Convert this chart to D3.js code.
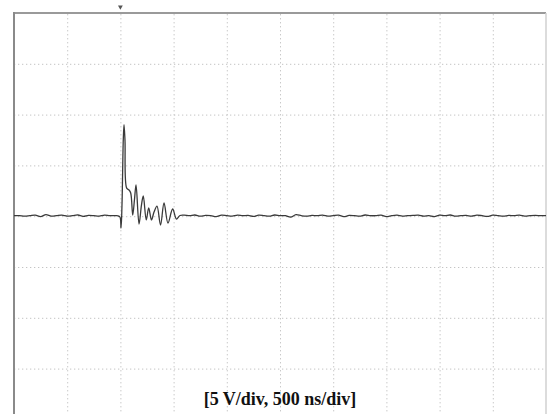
<!DOCTYPE html>
<html>
<head>
<meta charset="utf-8">
<style>
  body { margin: 0; background: #fff; }
  svg { display: block; }
  .grid line { stroke: #c4c4c4; stroke-width: 1; stroke-dasharray: 1.3,2.7; }
  .grid .domain { display: none; }
  .caption { font-family: "Liberation Serif", "Times New Roman", serif; font-weight: bold; font-size: 18px; fill: #111; }
</style>
</head>
<body>
<div id="chart"></div>
<script src="https://d3js.org/d3.v7.min.js"></script>
<script>
  // scope settings: 5 V/div, 500 ns/div, 10 x 8 divisions
  const xTicks = [0, 500, 1000, 1500, 2000, 2500, 3000, 3500, 4000, 4500, 5000];
  const yTicks = [-20, -15, -10, -5, 0, 5, 10, 15, 20];
  const caption = '[5 V/div, 500 ns/div]';
  const triggerTime = 1000;

  // baseline samples (every 50 ns) before and after the burst, volts
  const sampleStep = 50;
  const preStart = 0;
  const preV = [0.05, 0.05, 0.0, 0.05, 0.1, -0.05, 0.15, 0.0, 0.05, 0.1,
                0.0, 0.05, 0.12, -0.02, 0.08, 0.05, 0.0, 0.1, 0.05, 0.05];
  const postStart = 1600;
  const postV = [0.1, 0.05, 0.12, 0.0, 0.08, 0.05, -0.05, 0.1, 0.05, 0.0,
                 0.1, 0.05, 0.08, -0.02, 0.1, 0.05, 0.0, 0.12, 0.05, 0.05,
                 -0.1, 0.15, 0.05, 0.0, 0.08, 0.05, 0.1, 0.0, 0.05, 0.1,
                 -0.05, 0.08, 0.05, 0.0, 0.12, 0.05, 0.05, 0.1, -0.05, 0.05,
                 0.1, 0.0, 0.05, 0.08, 0.1, 0.0, 0.05, -0.05, 0.1, 0.05,
                 0.12, 0.0, 0.05, 0.08, 0.0, 0.1, 0.05, -0.02, 0.1, 0.05,
                 0.0, 0.08, 0.05, 0.1, 0.0, 0.05, 0.08, 0.05, 0.05];

  // the pulse and its ringing
  const burstT = [977, 996, 1006, 1015, 1027, 1034, 1043, 1059, 1081, 1097, 1116, 1132,
                  1147, 1175, 1198, 1215, 1243, 1266, 1292, 1316, 1344, 1377, 1410,
                  1447, 1491, 1527, 1560];
  const burstV = [0.04, -0.08, -1.16, 1.1, 7.5, 9.0, 7.5, 2.76, 2.58, 2.28, 0.12, 1.6,
                  3.07, -0.77, 1.1, 1.99, -0.37, 0.81, -0.37, 0.41, 1.0, -0.87, 1.3,
                  -0.67, 0.71, -0.28, 0.07];

  const width = 547;
  const height = 414;
  const plot = { left: 14, right: 546, top: 13, bottom: 419.4 };

  const trace = [];
  preV.forEach((v, i) => trace.push({ t: preStart + i * sampleStep, v: v }));
  burstT.forEach((t, i) => trace.push({ t: t, v: burstV[i] }));
  postV.forEach((v, i) => trace.push({ t: postStart + i * sampleStep, v: v }));

  const svg = d3.select('#chart')
    .append('svg')
    .attr('width', width)
    .attr('height', height);

  const x = d3.scaleLinear().domain([0, 5000]).range([plot.left, plot.right]);
  const y = d3.scaleLinear().domain([-20, 20]).range([plot.bottom, plot.top]);

  // dotted graticule
  svg.append('g')
    .attr('class', 'grid')
    .attr('transform', `translate(0, ${plot.bottom})`)
    .call(d3.axisBottom(x).tickValues(xTicks.slice(1, -1))
      .tickSize(-(plot.bottom - plot.top)).tickFormat(''));

  svg.append('g')
    .attr('class', 'grid')
    .attr('transform', `translate(${plot.left}, 0)`)
    .call(d3.axisLeft(y).tickValues(yTicks.slice(1, -1))
      .tickSize(-(plot.right - plot.left)).tickFormat(''));

  // frame
  svg.append('line')
    .attr('x1', plot.left).attr('x2', plot.right)
    .attr('y1', y(20)).attr('y2', y(20))
    .attr('stroke', '#9a9a9a').attr('stroke-width', 2);
  svg.append('line')
    .attr('x1', plot.left).attr('x2', plot.left)
    .attr('y1', y(20) - 1).attr('y2', height)
    .attr('stroke', '#8a8a8a').attr('stroke-width', 2);
  svg.append('line')
    .attr('x1', plot.right).attr('x2', plot.right)
    .attr('y1', y(20)).attr('y2', height)
    .attr('stroke', '#d0d0d0').attr('stroke-width', 1.5);

  // trigger marker above the frame
  svg.append('path')
    .attr('d', d3.symbol(d3.symbolTriangle, 10)())
    .attr('transform', `translate(${x(triggerTime)}, 7) rotate(180)`)
    .attr('fill', '#555');

  // waveform
  const line = d3.line()
    .x((d) => x(d.t))
    .y((d) => y(d.v))
    .curve(d3.curveCatmullRom.alpha(0.5));

  svg.append('path')
    .datum(trace)
    .attr('fill', 'none')
    .attr('stroke', '#3a3a3a')
    .attr('stroke-width', 1.3)
    .attr('stroke-linejoin', 'round')
    .attr('d', line);

  svg.append('text')
    .attr('class', 'caption')
    .attr('x', x(2500))
    .attr('y', 405)
    .attr('text-anchor', 'middle')
    .text(caption);
</script>
</body>
</html>
